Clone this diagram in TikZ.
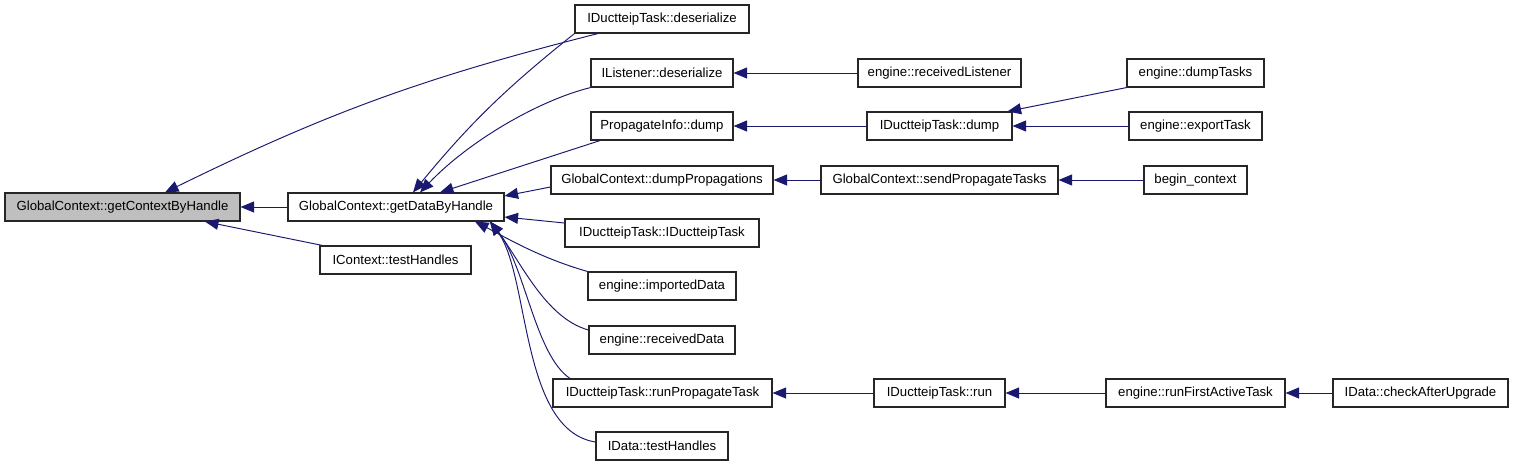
\documentclass[tikz,border=0pt]{standalone}
\usepackage{fontspec}
\setmainfont{Liberation Sans}
\usepackage{tikz}
\usetikzlibrary{arrows.meta}
\definecolor{calledge}{RGB}{25,25,112}
\definecolor{boxgray}{RGB}{191,191,191}

\begin{document}
\begin{tikzpicture}[x=1cm, y=1cm,
	fn/.style={draw=black!85, line width=0.65pt, fill=white, minimum height=0.56cm, inner xsep=2pt, inner ysep=0pt, font=\fontsize{7.5}{9}\selectfont},
	call/.style={draw=calledge, line width=0.55pt, ->, >={Triangle[length=0.27cm, width=0.22cm]}}]
	\useasboundingbox (0,0) rectangle (30.3,-9.34);

	% first two columns
	\node[fn, fill=boxgray, minimum width=4.70cm] (ctx) at (2.45,-4.14) {GlobalContext::getContextByHandle};
	\node[fn, minimum width=4.32cm] (data) at (7.92,-4.14) {GlobalContext::getDataByHandle};
	\node[fn, minimum width=3.02cm] (ictxtest) at (7.91,-5.20) {IContext::testHandles};

	% callers of getDataByHandle
	\node[fn, minimum width=3.48cm] (taskdeser) at (13.24,-0.38) {IDuctteipTask::deserialize};
	\node[fn, minimum width=2.84cm] (listdeser) at (13.24,-1.46) {IListener::deserialize};
	\node[fn, minimum width=2.84cm] (propdump) at (13.24,-2.52) {PropagateInfo::dump};
	\node[fn, minimum width=4.44cm] (dumpprop) at (13.24,-3.60) {GlobalContext::dumpPropagations};
	\node[fn, minimum width=3.88cm] (taskctor) at (13.24,-4.66) {IDuctteipTask::IDuctteipTask};
	\node[fn, minimum width=2.96cm] (imported) at (13.24,-5.72) {engine::importedData};
	\node[fn, minimum width=2.92cm] (received) at (13.24,-6.80) {engine::receivedData};
	\node[fn, minimum width=4.38cm] (runprop) at (13.25,-7.86) {IDuctteipTask::runPropagateTask};
	\node[fn, minimum width=2.64cm] (datatest) at (13.24,-8.92) {IData::testHandles};

	% further out
	\node[fn, minimum width=3.26cm] (recvlist) at (18.79,-1.46) {engine::receivedListener};
	\node[fn, minimum width=2.90cm] (taskdump) at (18.79,-2.52) {IDuctteipTask::dump};
	\node[fn, minimum width=4.74cm] (sendprop) at (18.79,-3.60) {GlobalContext::sendPropagateTasks};
	\node[fn, minimum width=2.62cm] (taskrun) at (18.79,-7.86) {IDuctteipTask::run};
	\node[fn, minimum width=2.74cm] (dumptasks) at (23.91,-1.46) {engine::dumpTasks};
	\node[fn, minimum width=2.66cm] (export) at (23.91,-2.52) {engine::exportTask};
	\node[fn, minimum width=2.06cm] (begin) at (23.91,-3.60) {begin\_context};
	\node[fn, minimum width=3.58cm] (firstactive) at (23.91,-7.86) {engine::runFirstActiveTask};
	\node[fn, minimum width=3.50cm] (checkafter) at (28.41,-7.86) {IData::checkAfterUpgrade};

	% calls into getContextByHandle
	\draw[call] (data.west) -- (ctx.east);
	\draw[call] ([xshift=-1.28cm]taskdeser.south) to[bend right=6] ([xshift=0.85cm]ctx.north);
	\draw[call] ([xshift=0.06cm]ictxtest.north west) -- ([xshift=1.65cm]ctx.south);

	% calls into getDataByHandle
	\draw[call] (taskdeser.south west) to[bend right=6] ([xshift=0.34cm]data.north);
	\draw[call] (listdeser.south west) .. controls (10.8,-2.0) and (9.4,-2.8) .. ([xshift=0.48cm]data.north);
	\draw[call] ([xshift=-1.24cm]propdump.south) -- ([xshift=0.88cm]data.north);
	\draw[call] ([yshift=-0.14cm]dumpprop.west) -- ([yshift=0.22cm]data.east);
	\draw[call] ([yshift=0.2cm]taskctor.west) -- ([yshift=-0.2cm]data.east);
	\draw[call] (imported.north west) .. controls (10.8,-5.16) and (10.1,-4.74) .. ([xshift=1.58cm]data.south);
	\draw[call] ([yshift=0.2cm]received.west) .. controls (10.9,-6.36) and (10.4,-5.2) .. ([xshift=1.88cm]data.south);
	\draw[call] ([xshift=-1.85cm]runprop.north) .. controls (10.7,-7.1) and (10.5,-5.3) .. ([xshift=1.88cm]data.south);
	\draw[call] ([yshift=0.08cm]datatest.west) .. controls (10.4,-8.6) and (10.6,-5.5) .. ([xshift=1.88cm]data.south);

	% outer calls
	\draw[call] (recvlist.west) -- (listdeser.east);
	\draw[call] (taskdump.west) -- (propdump.east);
	\draw[call] (sendprop.west) -- (dumpprop.east);
	\draw[call] (taskrun.west) -- (runprop.east);
	\draw[call] (dumptasks.south west) -- ([xshift=-0.1cm]taskdump.north east);
	\draw[call] (export.west) -- (taskdump.east);
	\draw[call] (begin.west) -- (sendprop.east);
	\draw[call] (firstactive.west) -- (taskrun.east);
	\draw[call] (checkafter.west) -- (firstactive.east);
\end{tikzpicture}
\end{document}
